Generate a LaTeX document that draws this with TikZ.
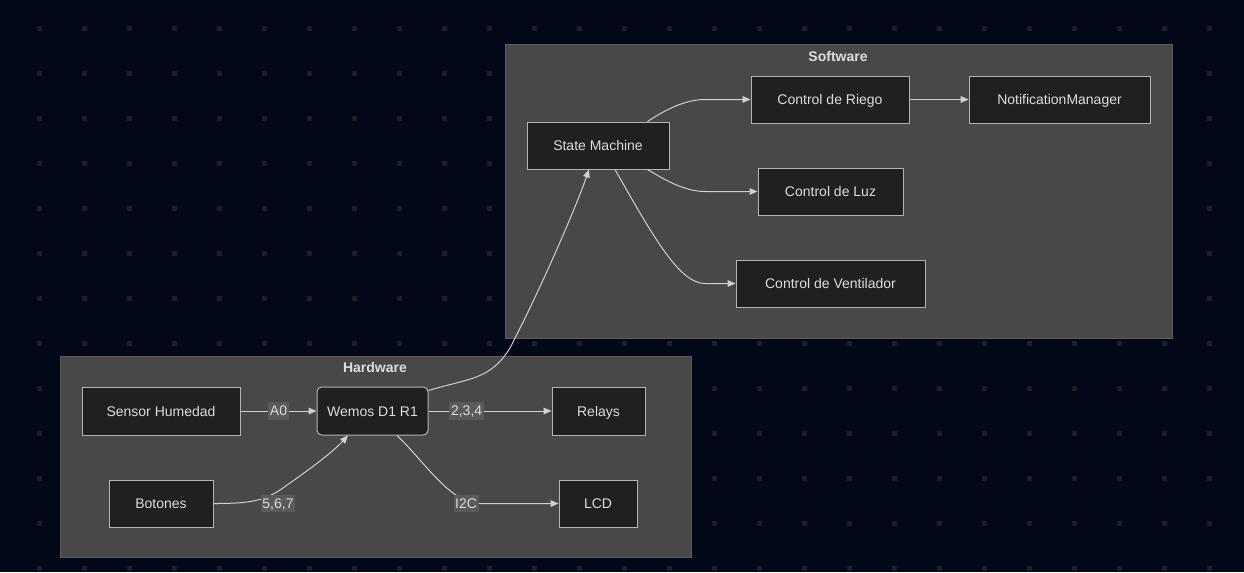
\documentclass[tikz,border=0pt]{standalone}
\usepackage{fontspec}
\setmainfont{Liberation Sans}
\usetikzlibrary{arrows.meta,calc}
\definecolor{bgc}{HTML}{030818}
\definecolor{dotc}{HTML}{1C1E28}
\definecolor{clfill}{HTML}{484848}
\definecolor{cldraw}{HTML}{5C5C5C}
\definecolor{nfill}{HTML}{1F2020}
\definecolor{ndraw}{HTML}{B4B4B4}
\definecolor{txtc}{HTML}{DDDDDD}
\definecolor{edgec}{HTML}{D0D0D0}
\definecolor{lblfill}{HTML}{5A5A5A}
\tikzset{
  cluster/.style={fill=clfill,draw=cldraw,line width=0.75pt},
  cltitle/.style={text=txtc,font=\fontsize{10.5}{12}\selectfont\bfseries,inner sep=0pt},
  box/.style={fill=nfill,draw=ndraw,line width=0.75pt,text=txtc,
    font=\fontsize{10.5}{12}\selectfont,minimum height=35.25pt,inner sep=0pt,
    text height=9pt,text depth=0.8pt},
  edge/.style={draw=edgec,line width=0.75pt,-{Triangle[length=6pt,width=5pt]}},
  elabel/.style={fill=lblfill,text=txtc,font=\fontsize{10.5}{12}\selectfont,
    inner sep=1.2pt,text height=9pt,text depth=2pt}
}
\begin{document}
\begin{tikzpicture}[x=0.75pt,y=-0.75pt]
\useasboundingbox (0,0) rectangle (1244,572);
\fill[bgc] (0,0) rectangle (1244,572);
\foreach \i in {0,...,26}{
  \foreach \j in {0,...,12}{
    \fill[dotc] ({37+45*\i},{26+45*\j}) rectangle ++(5,5);
  }
}
% clusters
\draw[cluster] (505,44) rectangle (1172,338);
\node[cltitle] (swt) at (838,56) {Software};
\draw[cluster] (60,356) rectangle (691,557);
\node[cltitle] (hwt) at (375,367) {Hardware};
% software nodes
\node[box,minimum width=106.5pt] (sm) at (598,145.5) {State Machine};
\node[box,minimum width=118.5pt] (riego) at (830,99.5) {Control de Riego};
\node[box,minimum width=135.75pt] (notif) at (1059.5,99.5) {NotificationManager};
\node[box,minimum width=108.75pt] (luz) at (830.5,191.5) {Control de Luz};
\node[box,minimum width=141.75pt] (vent) at (830.5,283.5) {Control de Ventilador};
% hardware nodes
\node[box,minimum width=118.5pt,minimum height=36pt] (sensor) at (161,411) {Sensor Humedad};
\node[box,minimum width=83.25pt,minimum height=36pt,rounded corners=3.5pt] (wemos) at (372.5,411) {Wemos D1 R1};
\node[box,minimum width=69.75pt,minimum height=36pt] (relays) at (598.5,411) {Relays};
\node[box,minimum width=78pt] (botones) at (161,503.5) {Botones};
\node[box,minimum width=58.5pt] (lcd) at (598,503.5) {LCD};
% software edges
\draw[edge] ($(sm.north east)+(-22,0)$) .. controls (665,110) and (685,99.5) .. (705,99.5) -- (riego.west);
\draw[edge] ($(sm.south east)+(-22,0)$) .. controls (665,180) and (685,191.5) .. (705,191.5) -- (luz.west);
\draw[edge] ($(sm.south)+(17,0)$) .. controls (655,240) and (680,283.5) .. (705,283.5) -- (vent.west);
\draw[edge] (riego) -- (notif);
% hardware edges
\draw[edge] (sensor) -- node[elabel] (la0) {A0} (wemos);
\draw[edge] (wemos) -- node[elabel,pos=0.31] (l234) {2,3,4} (relays);
\draw[edge] (botones.east) .. controls (245,503.5) and (262,502) .. (280,490)
   .. controls (300,476) and (330,455) .. ($(wemos.south)+(-24.5,0)$);
\node[elabel] (l567) at (278,503.5) {5,6,7};
\draw[edge] ($(wemos.south)+(24.5,0)$) .. controls (425,462) and (450,503.5) .. (480,503.5) -- (lcd.west);
\node[elabel] (li2c) at (466,503.5) {I2C};
\draw[edge] ($(wemos.north east)+(0,4)$) .. controls (470,378) and (490,380) .. (510,348)
   .. controls (540,290) and (575,210) .. ($(sm.south)+(-9,0)$);
\end{tikzpicture}
\end{document}
